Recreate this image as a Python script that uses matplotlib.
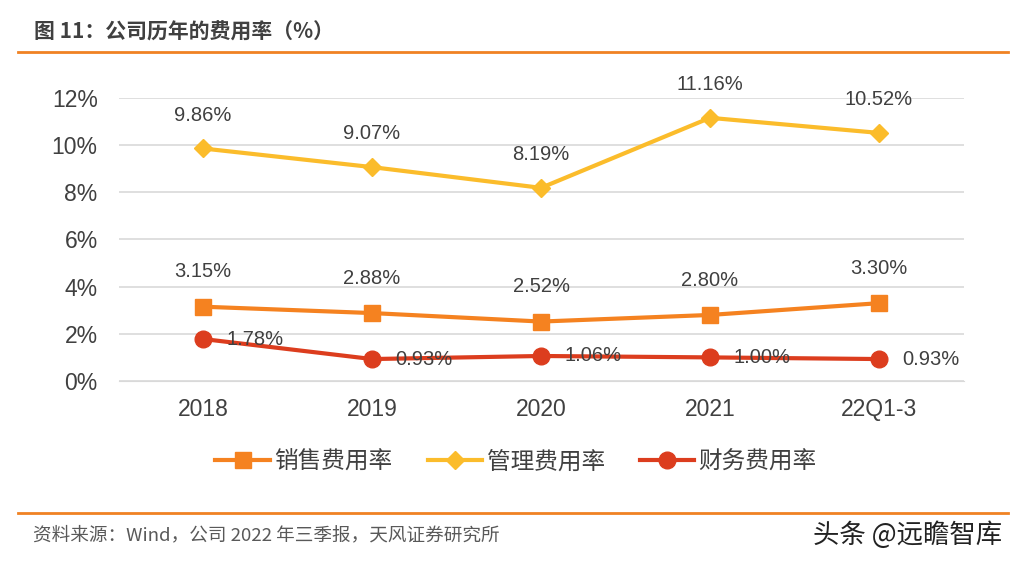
import matplotlib
matplotlib.use("Agg")
import matplotlib.pyplot as plt
import matplotlib.lines as mlines

plt.rcParams['font.family'] = ['Noto Sans CJK SC', 'DejaVu Sans']

categories = ["2018", "2019", "2020", "2021", "22Q1-3"]
sales = [3.15, 2.88, 2.52, 2.80, 3.30]
admin = [9.86, 9.07, 8.19, 11.16, 10.52]
finance = [1.78, 0.93, 1.06, 1.00, 0.93]
yticks = [0, 2, 4, 6, 8, 10, 12]
series_names = ["销售费用率", "管理费用率", "财务费用率"]

c_sales = "#F58220"
c_admin = "#FBBC2B"
c_fin = "#DC3D1E"
txt = "#404040"

fig = plt.figure(figsize=(10.14, 5.62), dpi=100)
ax = fig.add_axes([0.1169, 0.3221, 0.8333, 0.5035])

x = list(range(len(categories)))
ax.plot(x, sales, color=c_sales, lw=3, marker='s', ms=11.5, zorder=3)
ax.plot(x, admin, color=c_admin, lw=3, marker='D', ms=9, zorder=3)
ax.plot(x, finance, color=c_fin, lw=3, marker='o', ms=12, zorder=3)

numfont = ['Liberation Sans', 'DejaVu Sans']
lab_fs = 14.5
for i, v in enumerate(admin):
    ax.annotate(f"{v:.2f}%", (i, v), xytext=(0, 24), textcoords='offset points',
                ha='center', va='center', fontsize=lab_fs, color=txt, family=numfont)
for i, v in enumerate(sales):
    ax.annotate(f"{v:.2f}%", (i, v), xytext=(0, 25), textcoords='offset points',
                ha='center', va='center', fontsize=lab_fs, color=txt, family=numfont)
for i, v in enumerate(finance):
    ax.annotate(f"{v:.2f}%", (i, v), xytext=(17, 0), textcoords='offset points',
                ha='left', va='center', fontsize=lab_fs, color=txt, family=numfont)

ax.set_xlim(-0.5, len(categories) - 0.5)
ax.set_ylim(0, 12)
ax.set_yticks(yticks)
ax.set_yticklabels([f"{t}%" for t in yticks], family=numfont, fontsize=16.5, color=txt)
ax.set_xticks(x)
ax.set_xticklabels(categories, family=numfont, fontsize=16.5, color=txt)
ax.grid(axis='y', color='#D9D9D9', lw=1.2)
ax.set_axisbelow(True)
ax.tick_params(axis='x', length=0, pad=12)
ax.tick_params(axis='y', length=0, pad=15)
for s in ax.spines.values():
    s.set_visible(False)
ax.spines['bottom'].set_visible(True)
ax.spines['bottom'].set_color('#D9D9D9')

handles = [
    mlines.Line2D([], [], color=c_sales, lw=3, marker='s', ms=11.5),
    mlines.Line2D([], [], color=c_admin, lw=3, marker='D', ms=9),
    mlines.Line2D([], [], color=c_fin, lw=3, marker='o', ms=12),
]
fig.legend(handles, series_names, loc='center', bbox_to_anchor=(0.509, 0.178), ncol=3,
           frameon=False, fontsize=17, handlelength=2.3, columnspacing=1.48,
           handletextpad=0.2, labelcolor=txt, borderpad=0, borderaxespad=0)

fig.text(0.034, 0.943, "图 11：公司历年的费用率（%）", fontsize=15, fontweight='bold',
         color=txt, va='center', ha='left')
fig.add_artist(mlines.Line2D([0.018, 0.994], [0.907, 0.907], color='#F08223', lw=2))
fig.add_artist(mlines.Line2D([0.018, 0.994], [0.087, 0.087], color='#F08223', lw=2))
fig.text(0.033, 0.048, "资料来源：Wind，公司 2022 年三季报，天风证券研究所", fontsize=13.4,
         color='#595959', va='center', ha='left')
fig.text(0.988, 0.048, "头条 @远瞻智库", fontsize=19, color='#222222', va='center', ha='right')

fig.savefig("out.png", dpi=100)
